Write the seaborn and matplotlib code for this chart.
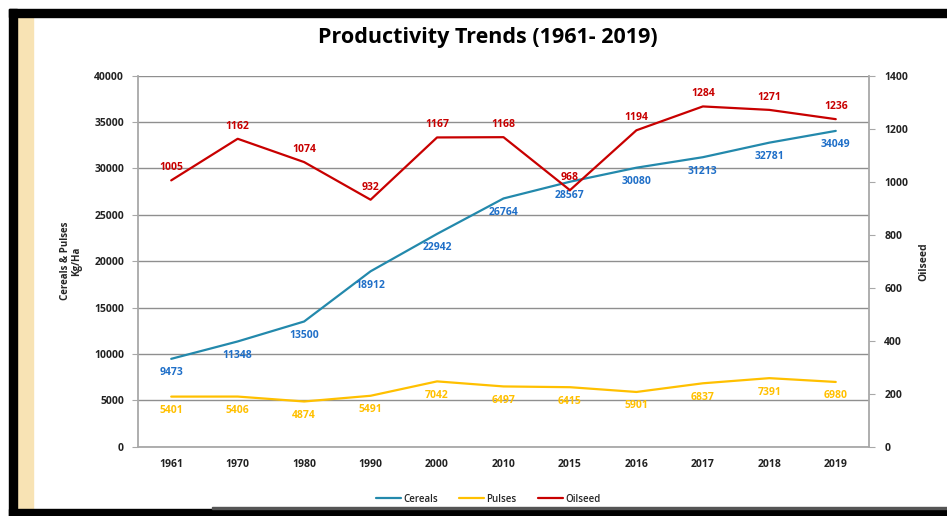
import pandas as pd
import seaborn as sns
import matplotlib.pyplot as plt
from matplotlib.patches import Rectangle

# Data
years = ['1961', '1970', '1980', '1990', '2000', '2010', '2015', '2016', '2017', '2018', '2019']
cereals = [9473, 11348, 13500, 18912, 22942, 26764, 28567, 30080, 31213, 32781, 34049]
pulses = [5401, 5406, 4874, 5491, 7042, 6497, 6415, 5901, 6837, 7391, 6980]
oilseed = [1005, 1162, 1074, 932, 1167, 1168, 968, 1194, 1284, 1271, 1236]

df = pd.DataFrame({'pos': range(len(years)), 'year': years,
                   'Cereals': cereals, 'Pulses': pulses, 'Oilseed': oilseed})

sns.set_style('white')
plt.rcParams['font.family'] = ['Open Sans', 'DejaVu Sans']

c_cer_line, c_cer_txt = '#2389AC', '#1F6FC8'
c_pul = '#FFC000'
c_oil = '#C80000'
grid_c = '#8f8f8f'

fig = plt.figure(figsize=(9.47, 5.16), dpi=100)
W, H = 947, 516

# slide-style frame
fig.patches.append(Rectangle((17 / W, 0), 16 / W, 1 - 17 / H, transform=fig.transFigure,
                             color='#F8E3B4', zorder=-5))
fig.patches.append(Rectangle((9 / W, 1 - 17 / H), 1, 8 / H, transform=fig.transFigure,
                             color='black', zorder=-4))
fig.patches.append(Rectangle((9 / W, 0), 8 / W, 1 - 9 / H, transform=fig.transFigure,
                             color='black', zorder=-4))
fig.patches.append(Rectangle((9 / W, 0), 1, 7 / H, transform=fig.transFigure,
                             color='black', zorder=-4))
fig.patches.append(Rectangle((212 / W, 7 / H), 1, 2 / H, transform=fig.transFigure,
                             color='#555555', zorder=-4))

ax = fig.add_axes([138 / W, 1 - 446.7 / H, 731 / W, 371 / H])
ax2 = ax.twinx()

sns.lineplot(data=df, x='pos', y='Cereals', ax=ax, color=c_cer_line, lw=1.6, label='Cereals', legend=False)
sns.lineplot(data=df, x='pos', y='Pulses', ax=ax, color=c_pul, lw=1.6, label='Pulses', legend=False)
sns.lineplot(data=df, x='pos', y='Oilseed', ax=ax2, color=c_oil, lw=1.6, label='Oilseed', legend=False)

ax.set_xlim(-0.5, len(years) - 0.5)
ax.set_ylim(0, 40000)
ax2.set_ylim(0, 1400)
ax.set_yticks(range(0, 40001, 5000))
ax2.set_yticks(range(0, 1401, 200))
ax.set_xticks(range(len(years)))
ax.set_xticklabels(years)
ax.set_xticks([i - 0.5 for i in range(len(years) + 1)], minor=True)

ax.grid(axis='y', color=grid_c, lw=1)
ax2.grid(False)
for a in (ax, ax2):
    for s in a.spines.values():
        s.set_visible(False)
ax.spines['left'].set_visible(True)
ax.spines['bottom'].set_visible(True)
ax2.spines['right'].set_visible(True)
for s in (ax.spines['left'], ax.spines['bottom'], ax2.spines['right']):
    s.set_color('#a8a8a8')
    s.set_linewidth(1.3)

ax.tick_params(axis='x', which='major', length=0, pad=9)
ax.tick_params(axis='x', which='minor', length=4, color='#a8a8a8', width=1)
ax.tick_params(axis='y', length=4, color='#a8a8a8', pad=6)
ax2.tick_params(axis='y', length=4, color='#a8a8a8', pad=7)
for lab in ax.get_xticklabels() + ax.get_yticklabels() + ax2.get_yticklabels():
    lab.set_fontsize(7.5)
    lab.set_fontweight('bold')
    lab.set_color('#222222')

ax.set_xlabel('')
ax.set_ylabel('Cereals & Pulses\nKg/Ha', fontsize=7, fontweight='bold', linespacing=1.0)
ax.yaxis.set_label_coords(-0.077, 0.5)
ax2.set_ylabel('Oilseed', fontsize=7.5, fontweight='bold')
ax2.yaxis.set_label_coords(1.067, 0.5)

# data labels
for i, v in enumerate(cereals):
    ax.annotate(str(v), (i, v), xytext=(0, -10), textcoords='offset points',
                ha='center', va='center', fontsize=7.5, fontweight='bold', color=c_cer_txt)
for i, v in enumerate(pulses):
    ax.annotate(str(v), (i, v), xytext=(0, -10), textcoords='offset points',
                ha='center', va='center', fontsize=7.5, fontweight='bold', color=c_pul)
for i, v in enumerate(oilseed):
    ax2.annotate(str(v), (i, v), xytext=(0, 9), textcoords='offset points',
                 ha='center', va='center', fontsize=7.5, fontweight='bold', color=c_oil)

fig.text(488 / W, 1 - 38 / H, 'Productivity Trends (1961- 2019)', ha='center', va='center',
         fontsize=15.5, fontweight='bold', color='black')

h1, l1 = ax.get_legend_handles_labels()
h2, l2 = ax2.get_legend_handles_labels()
fig.legend(h1 + h2, l1 + l2, loc='center', bbox_to_anchor=(488 / W, 1 - 499 / H), ncol=3,
           frameon=False, prop={'size': 7, 'weight': 'semibold'}, handlelength=2.6,
           columnspacing=2.2, handletextpad=0.2)

fig.savefig('out.png', dpi=100, facecolor='white')
